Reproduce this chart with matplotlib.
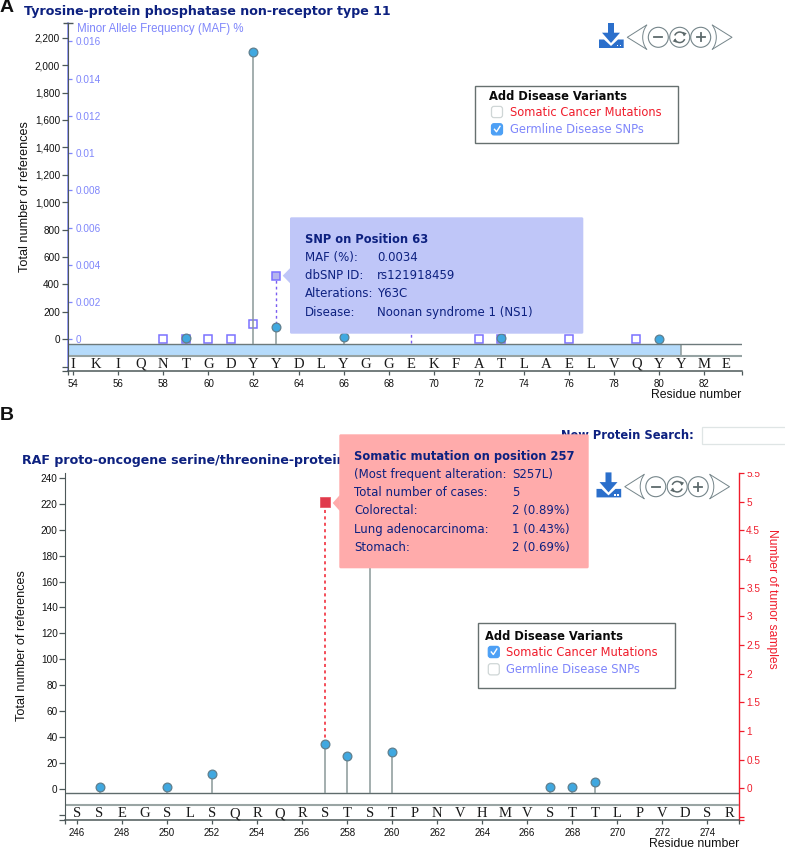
import matplotlib
matplotlib.use("Agg")
import matplotlib.pyplot as plt
from matplotlib.patches import Rectangle, Polygon, Circle, Arc, FancyBboxPatch
from matplotlib.ticker import FixedLocator, FixedFormatter

# ---------- data ----------
seq_a = list("IKIQNTGDYYDLYGGEKFATLAELVQYYME")
seq_a_start = 54
refs_a_pos = [59, 62, 63, 66, 73, 80]
refs_a_val = [7, 2096, 90, 17, 8, 5]
maf_a_pos = [58, 59, 60, 61, 62, 72, 73, 76, 79]
maf_a_val = [0, 0, 0, 0, 0.0008, 0, 0, 0, 0]
maf_sel_pos = 63
maf_sel_val = 0.0034
maf_hidden_pos = 69
maf_hidden_val = 0.0015
region_a_end = 81
yticks_a = [0, 200, 400, 600, 800, 1000, 1200, 1400, 1600, 1800, 2000, 2200]
mafticks = [0, 0.002, 0.004, 0.006, 0.008, 0.01, 0.012, 0.014, 0.016]
maflabels = ["0", "0.002", "0.004", "0.006", "0.008", "0.01", "0.012", "0.014", "0.016"]

seq_b = list("SSEGSLSQRQRSTSTPNVHMVSTTLPVDSR")
seq_b_start = 246
refs_b_pos = [247, 250, 252, 257, 258, 259, 260, 267, 268, 269]
refs_b_val = [1.6, 1.6, 11.6, 34.5, 25.5, 200, 28.6, 1.6, 1.6, 5.4]
mut_pos = 257
mut_val = 5
yticks_b = list(range(0, 241, 20))
rticks_b = [0, 0.5, 1, 1.5, 2, 2.5, 3, 3.5, 4, 4.5, 5, 5.5]
rlabels_b = ["0", "0.5", "1", "1.5", "2", "2.5", "3", "3.5", "4", "4.5", "5", "5.5"]

tip_a_title = "SNP on Position 63"
tip_a_rows = [("MAF (%):", "0.0034"), ("dbSNP ID:", "rs121918459"),
              ("Alterations:", "Y63C"), ("Disease:", "Noonan syndrome 1 (NS1)")]
tip_b_title = "Somatic mutation on position 257"
tip_b_rows = [("(Most frequent alteration:", "S257L)"), ("Total number of cases:", "5"),
              ("Colorectal:", "2 (0.89%)"), ("Lung adenocarcinoma:", "1 (0.43%)"),
              ("Stomach:", "2 (0.69%)")]

# ---------- style ----------
W, H = 785, 849
NAVY = "#0d2180"
BLUE = "#7f86fb"
RED = "#f01d2c"
DARK = "#4d5859"
STEM = "#8a9899"
SANS = "Liberation Sans"
VERD = "DejaVu Sans"
SERIF = "Liberation Serif"

plt.rcParams["font.family"] = SANS
fig = plt.figure(figsize=(W / 100, H / 100), dpi=100)


def panel(l, t, r, b):
    return fig.add_axes([l / W, 1 - b / H, (r - l) / W, (b - t) / H], facecolor="none")


def style(ax, xticks, xlim, ylim, yticks, ytl, extra):
    ax.set_xlim(*xlim)
    ax.set_ylim(*ylim)
    for s in ("top", "right"):
        ax.spines[s].set_visible(False)
    ax.spines["left"].set_color(DARK)
    ax.spines["bottom"].set_color(DARK)
    ax.spines["bottom"].set_linewidth(1.1)
    ax.set_xticks(xticks)
    ax.set_xticklabels([str(v) for v in xticks])
    ax.set_xticks(list(xlim), minor=True)
    ax.tick_params(axis="x", which="both", length=3, width=0.9, color=DARK, pad=2.5,
                   labelsize=7, labelcolor="#111111")
    ticks = [ylim[0], extra] + yticks
    labels = ["", ""] + ytl
    ax.yaxis.set_major_locator(FixedLocator(ticks))
    ax.yaxis.set_major_formatter(FixedFormatter(labels))
    ax.tick_params(axis="y", length=4, width=0.9, color=DARK, pad=1.5,
                   labelsize=7.2, labelcolor="#111111")


def sequence(ax, seq, start, y):
    for i, ch in enumerate(seq):
        ax.text(start + i, y, ch, family=SERIF, fontsize=10.5, ha="center", va="center",
                color="#1a1a1a", clip_on=False)


# ---------- panel A ----------
axA = panel(67.7, 23.3, 741.7, 371)
xlimA = (53.75, 83.68)
ylimA = (-231, 2305)
style(axA, list(range(54, 83, 2)), xlimA, ylimA, yticks_a,
      [f"{v:,}" for v in yticks_a], -200)
axA.set_yticks([ylimA[1]], minor=True)
axA.tick_params(axis="y", which="minor", direction="inout", length=7.5, width=1, color=DARK)
band_top_a, band_bot_a = -36.5, -122
axA.barh((band_top_a + band_bot_a) / 2, region_a_end - xlimA[0], left=xlimA[0],
         height=band_top_a - band_bot_a, color="#b5dbfb", edgecolor="none", zorder=1)
axA.vlines(region_a_end, band_bot_a, band_top_a, color=STEM, lw=1.1, zorder=2)
axA.hlines(band_top_a, *xlimA, color="#6d7a7b", lw=1.0, zorder=2)
axA.hlines(band_bot_a, *xlimA, color="#96a3a3", lw=1.5, zorder=2)
axA.vlines(refs_a_pos, band_top_a, refs_a_val, color=STEM, lw=1.1, zorder=3)
axA.plot(refs_a_pos, refs_a_val, "o", ms=6.3, mfc="#40a8e0", mec="#5f7f8e", mew=0.9,
         zorder=6, clip_on=False)
sequence(axA, seq_a, seq_a_start, -180)

mafA = axA.twinx()
mafA.set_facecolor("none")
mafA.set_xlim(*xlimA)
mafA.set_ylim(-0.0017, 0.01697)
for s in ("top", "right", "bottom"):
    mafA.spines[s].set_visible(False)
mafA.spines["left"].set_color(BLUE)
mafA.spines["left"].set_linewidth(1.1)
mafA.yaxis.tick_left()
mafA.yaxis.set_major_locator(FixedLocator(mafticks))
mafA.yaxis.set_major_formatter(FixedFormatter(maflabels))
mafA.tick_params(axis="y", direction="in", length=3, width=0.9, color=BLUE, pad=-5.8,
                 labelsize=7.2, labelcolor=BLUE)
for lab in mafA.get_yticklabels():
    lab.set_ha("left")
mafA.vlines([maf_sel_pos, maf_hidden_pos], [0.0008, -0.0002], [maf_sel_val, maf_hidden_val],
            color="#7a5cf0", lw=1.0, linestyles=(0, (2, 2.2)), zorder=4)
mafA.plot(maf_a_pos, maf_a_val, "s", ms=6.4, mfc="none", mec="#7b72ff", mew=1.1, zorder=5)
mafA.plot([maf_sel_pos], [maf_sel_val], "s", ms=6.4, mfc="#b5b5ee", mec="#7b72ff", mew=1.1,
          zorder=5)
axA.set_zorder(mafA.get_zorder() + 1)

# ---------- panel B ----------
axB = panel(65.3, 472.7, 739.3, 820)
xlimB = (245.48, 275.42)
ylimB = (-24.2, 244.1)
style(axB, list(range(246, 275, 2)), xlimB, ylimB, yticks_b, [str(v) for v in yticks_b], -20)
band_top_b, band_bot_b = -3.6, -12.6
axB.hlines(band_top_b, *xlimB, color="#5f6b6c", lw=1.0, zorder=2)
axB.hlines(band_bot_b, *xlimB, color="#9aa5a4", lw=1.5, zorder=2)
axB.vlines(refs_b_pos, band_top_b, refs_b_val, color=STEM, lw=1.1, zorder=3)
axB.plot(refs_b_pos, refs_b_val, "o", ms=6.3, mfc="#40a8e0", mec="#5f7f8e", mew=0.9, zorder=6)
sequence(axB, seq_b, seq_b_start, -19.5)

axR = axB.twinx()
axR.set_facecolor("none")
axR.set_ylim(-0.553, 5.505)
for s in ("top", "left", "bottom"):
    axR.spines[s].set_visible(False)
axR.spines["right"].set_color(RED)
axR.spines["right"].set_linewidth(1.0)
axR.yaxis.set_major_locator(FixedLocator([-0.553, -0.5] + rticks_b))
axR.yaxis.set_major_formatter(FixedFormatter(["", ""] + rlabels_b))
axR.tick_params(axis="y", length=3.5, width=0.9, color=RED, pad=1.5, labelsize=7.2, labelcolor=RED)
axR.vlines([mut_pos], 0.78, mut_val, color=RED, lw=1.1, linestyles=(0, (2, 2.2)), zorder=4)
axR.plot([mut_pos], [mut_val], "s", ms=7.2, mfc="#e03a4c", mec="#ea5a66", mew=0.6, zorder=5)
axB.set_zorder(axR.get_zorder() + 1)

# ---------- figure-level text under the overlay ----------
def ftext(x, y, s, **kw):
    kw.setdefault("va", "center")
    return fig.text(x / W, 1 - y / H, s, **kw)


ftext(24, 11.5, "Tyrosine-protein phosphatase non-receptor type 11", family=VERD,
      weight="bold", fontsize=9.05, color=NAVY, zorder=1)
ftext(22, 460.5, "RAF proto-oncogene serine/threonine-protein", family=VERD,
      weight="bold", fontsize=9.05, color=NAVY, zorder=1)
ftext(561, 435.7, "New Protein Search:", family=VERD, weight="bold", fontsize=8.3,
      color=NAVY, zorder=1)
ftext(0, 7.5, "A", weight="bold", fontsize=14, color="#111111")
ftext(0, 416, "B", weight="bold", fontsize=14, color="#111111")
ftext(25, 197, "Total number of references", rotation=90, ha="center", fontsize=9.1, color="#111111")
ftext(22, 646, "Total number of references", rotation=90, ha="center", fontsize=9.1, color="#111111")
ftext(772, 599, "Number of tumor samples", rotation=270, ha="center", fontsize=8.7, color=RED)
ftext(77, 29, "Minor Allele Frequency (MAF) %", fontsize=8.3, color=BLUE)
ftext(741.5, 395, "Residue number", ha="right", fontsize=8.8, color="#111111")
ftext(739, 844, "Residue number", ha="right", fontsize=8.8, color="#111111")

# ---------- overlay (pixel coordinates) ----------
ov = fig.add_axes([0, 0, 1, 1], facecolor="none", zorder=10)
ov.set_xlim(0, W)
ov.set_ylim(H, 0)
ov.axis("off")


def icons(dx, dy):
    c = "#2b6fcb"
    ov.add_patch(Polygon([(608 + dx, 23 + dy), (614 + dx, 23 + dy), (614 + dx, 32.7 + dy),
                          (620 + dx, 32.7 + dy), (611 + dx, 43 + dy), (602 + dx, 32.7 + dy),
                          (608 + dx, 32.7 + dy)], fc=c, ec="none"))
    ov.add_patch(Polygon([(599 + dx, 39.5 + dy), (604 + dx, 39.5 + dy), (611 + dx, 46 + dy),
                          (618 + dx, 39.5 + dy), (623.7 + dx, 39.5 + dy), (623.7 + dx, 48 + dy),
                          (599 + dx, 48 + dy)], fc=c, ec="none"))
    ov.add_patch(Rectangle((616.5 + dx, 44.5 + dy), 1.6, 1.6, fc="white", ec="none"))
    ov.add_patch(Rectangle((619.5 + dx, 44.5 + dy), 1.6, 1.6, fc="white", ec="none"))
    g = "#75858a"
    cy = 37.3 + dy
    ov.plot([646.7 + dx, 627.3 + dx, 646.7 + dx], [25 + dy, cy, 49.3 + dy], color=g, lw=0.7)
    ov.plot([712.3 + dx, 732 + dx, 712.3 + dx], [25 + dy, cy, 49.3 + dy], color=g, lw=0.7)
    ov.add_patch(Arc((663.15 + dx, cy), 40.9, 40.9, theta1=143.6, theta2=216.4, color=g, lw=0.7))
    ov.add_patch(Arc((695.85 + dx, cy), 40.9, 40.9, theta1=-36.4, theta2=36.4, color=g, lw=0.7))
    for cx in (658.3, 679.7, 700.7):
        ov.add_patch(Circle((cx + dx, cy), 10, fc="white", ec=g, lw=0.8))
    ink = "#5d6a6c"
    ov.plot([654.3 + dx, 662.3 + dx], [cy, cy], color=ink, lw=1.3)
    ov.plot([696.7 + dx, 704.7 + dx], [cy, cy], color=ink, lw=1.3)
    ov.plot([700.7 + dx, 700.7 + dx], [cy - 4, cy + 4], color=ink, lw=1.3)
    rc = 679.7 + dx
    ov.add_patch(Arc((rc, cy), 10.5, 10.5, theta1=20, theta2=160, color=ink, lw=1.1))
    ov.add_patch(Arc((rc, cy), 10.5, 10.5, theta1=200, theta2=340, color=ink, lw=1.1))
    ov.add_patch(Polygon([(rc + 3, cy - 5.5), (rc + 7, cy - 4), (rc + 4, cy - 1)], fc=ink, ec="none"))
    ov.add_patch(Polygon([(rc - 3, cy + 5.5), (rc - 7, cy + 4), (rc - 4, cy + 1)], fc=ink, ec="none"))


def checkbox(x, y, checked):
    fc, ec = ("#4da0f5", "#4da0f5") if checked else ("white", "#cfd6d6")
    ov.add_patch(FancyBboxPatch((x + 1, y - 5.6), 11, 11.2, boxstyle="round,pad=0,rounding_size=2.5",
                                fc=fc, ec=ec, lw=0.9))
    if checked:
        ov.plot([x + 4, x + 6, x + 9.5], [y, y + 2.5, y - 3], color="white", lw=1)


def legend(l, t, r, b, tx, ty, cx, lx, y1, y2, first_checked):
    ov.add_patch(Rectangle((l, t), r - l, b - t, fc="white", ec="#66706f", lw=1.0))
    ov.text(tx, ty, "Add Disease Variants", family=VERD, weight="bold", fontsize=8.3,
            color="#0a0a0a", va="center")
    checkbox(cx, y1, first_checked)
    checkbox(cx, y2, not first_checked)
    ov.text(lx, y1, "Somatic Cancer Mutations", family=VERD, fontsize=8.3, color=RED, va="center")
    ov.text(lx, y2, "Germline Disease SNPs", family=VERD, fontsize=8.3, color=BLUE, va="center")


def tooltip(l, t, r, b, color, tip_x, tip_y, tx, col2, title, rows, y0, dy, ytitle):
    ov.add_patch(FancyBboxPatch((l, t), r - l, b - t, boxstyle="round,pad=0,rounding_size=1.5",
                                fc=color, ec="none"))
    ov.add_patch(Polygon([(l + 0.5, tip_y - 8), (tip_x, tip_y), (l + 0.5, tip_y + 8)], fc=color, ec="none"))
    ov.text(tx, ytitle, title, family=VERD, weight="bold", fontsize=8.3, color=NAVY, va="center")
    for i, (a, v) in enumerate(rows):
        ov.text(tx, y0 + i * dy, a, family=VERD, fontsize=8.5, color=NAVY, va="center")
        ov.text(col2, y0 + i * dy, v, family=VERD, fontsize=8.5, color=NAVY, va="center")


icons(0, 0)
icons(-2.5, 449.4)
legend(475.3, 86.3, 678, 142.7, 489, 96.5, 490.5, 510, 112, 129.3, False)
legend(478.3, 623.3, 675, 688.3, 485, 636.7, 487.3, 506, 652, 669.3, True)
tooltip(290, 217.3, 583.3, 333.7, "#bfc6f8", 282.7, 275.7, 305, 377, tip_a_title, tip_a_rows,
        257.3, 18.3, 239)
tooltip(339.3, 434.3, 588.7, 568.3, "#ffabab", 332.7, 503, 354, 512, tip_b_title, tip_b_rows,
        474.3, 18.3, 456)
ov.add_patch(Rectangle((701.7, 427), 90, 17, fc="white", ec="#dfe5e5", lw=0.9))
ov.add_patch(Rectangle((745, 460), 30, 12.2, fc="white", ec="none"))

fig.savefig("out.png", dpi=100)
